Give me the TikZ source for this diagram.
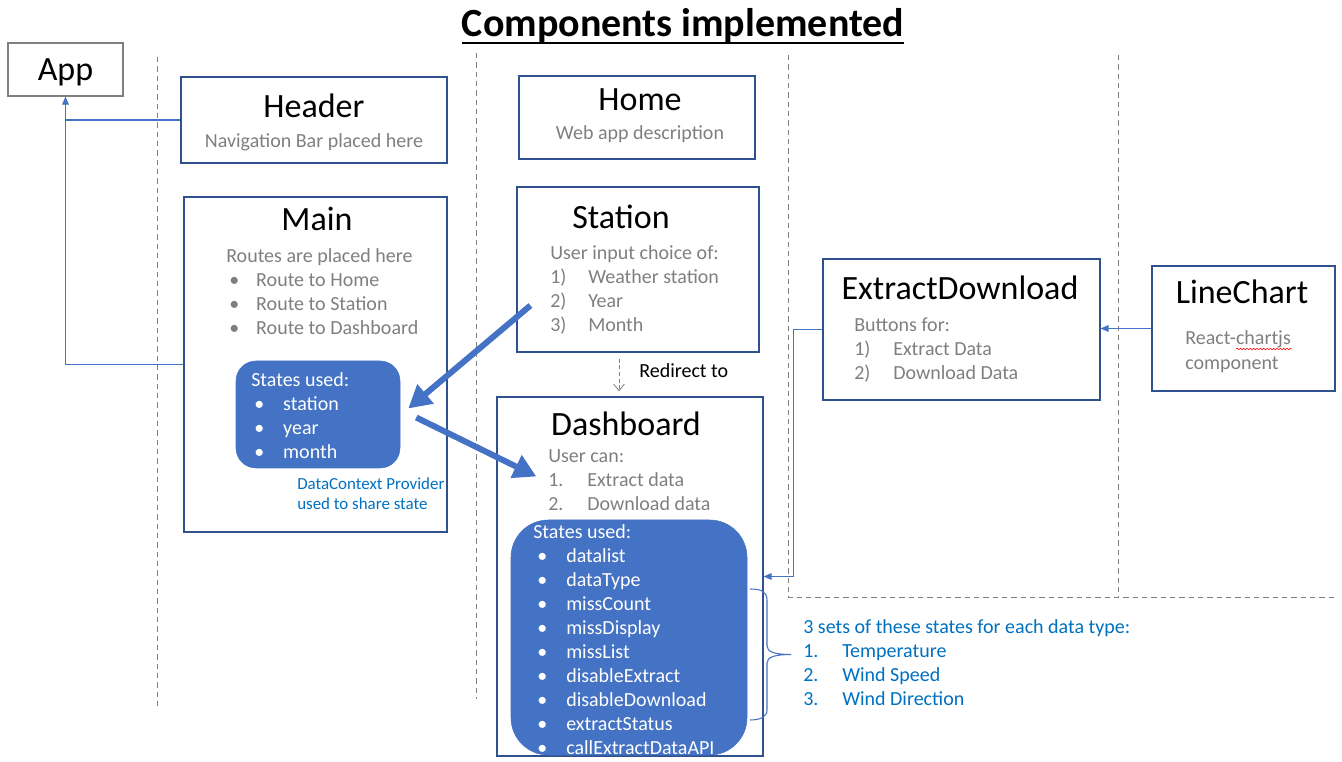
\documentclass[tikz,border=0pt]{standalone}
\usepackage{fontspec}
\setmainfont{Carlito}
\usetikzlibrary{arrows.meta,positioning,calc,decorations.pathmorphing}

\definecolor{boxline}{HTML}{2F528F}
\definecolor{accent}{HTML}{4472C4}
\definecolor{graytext}{HTML}{7F7F7F}
\definecolor{bluetext}{HTML}{0070C0}

% fixed-width lead for numbered and bulleted lines
\newcommand{\itm}[2]{\makebox[#1][l]{#2}}

\begin{document}
\begin{tikzpicture}[x=0.75pt, y=-0.75pt,
  boxsize/.style 2 args={minimum width=#1*0.75pt, minimum height=#2*0.75pt},
  box/.style={draw=boxline, line width=0.9pt, inner sep=0},
  states/.style={fill=accent, draw=accent, inner sep=0},
  ttl/.style={anchor=base, inner sep=0, font=\fontsize{25.5}{30}\selectfont},
  body/.style={anchor=base west, inner sep=0, align=left, font=\fontsize{15}{18}\selectfont},
  conn/.style={draw=accent, line width=0.8pt},
  tip/.style={-{Triangle[length=6pt,width=5pt]}},
  bigarrow/.style={draw=accent, line width=4.5pt, -{Triangle[length=17pt,width=18pt]}},
  sep/.style={draw=gray, line width=0.6pt, dash pattern=on 4pt off 3pt}]

\useasboundingbox (0,0) rectangle (1342,762);

% Title
\node (Title) [inner sep=0, anchor=base, font=\bfseries\fontsize{30}{36}\selectfont] at (683,37) {Components implemented};
\draw[line width=2pt] ($(Title.base west)+(0,6)$) -- ($(Title.base east)+(0,6)$);

% Column separators
\draw[sep] (157,57) -- (157,708);
\draw[sep] (476,53) -- (476,699);
\draw[sep] (788,55) -- (788,597) -- (1336,597);
\draw[sep] (1118,55) -- (1118,597);

% Component boxes
\node (App) [box, draw=gray, boxsize={115}{53}] at (65.5,69.5) {};
\node (Header) [box, boxsize={266}{86}] at (314,120) {};
\node (Main) [box, boxsize={263}{335}] at (315.5,364.5) {};
\node (Home) [box, boxsize={236}{83}] at (637,117.5) {};
\node (Station) [box, boxsize={242}{165}] at (638,269.5) {};
\node (Dashboard) [box, boxsize={266}{359}] at (630,576.5) {};
\node (ExtractDownload) [box, boxsize={277}{141}] at (961.5,329.5) {};
\node (LineChart) [box, boxsize={183}{125}] at (1243.5,328.5) {};

% State blocks
\node (MainStates) [states, rounded corners=15pt, boxsize={164}{107}] at (318,414.5) {};
\node (DashStates) [states, rounded corners=28pt, boxsize={236}{235}] at (629,637.5) {};

% Box titles
\node (AppT) [ttl] at (65.5,81) {App};
\node (HeaderT) [ttl] at (314,118) {Header};
\node (HomeT) [ttl] at (640,111) {Home};
\node (MainT) [ttl] at (317,231) {Main};
\node (StationT) [ttl] at (621,229) {Station};
\node (DashboardT) [ttl] at (626,436) {Dashboard};
\node (ExtractDownloadT) [ttl] at (960,300) {ExtractDownload};
\node (LineChartT) [ttl] at (1242,304) {LineChart};

% Descriptions (placed at the baseline of their last line)
\node (HeaderD) [body, anchor=base, text=graytext] at (314,148) {Navigation Bar placed here};
\node (HomeD) [body, anchor=base, text=graytext] at (640,140) {Web app description};
\node (MainD) [body, text=graytext] at (226,335) {Routes are placed here\\
  \hspace{2.25pt}\itm{20.25pt}{•}Route to Home\\
  \hspace{2.25pt}\itm{20.25pt}{•}Route to Station\\
  \hspace{2.25pt}\itm{20.25pt}{•}Route to Dashboard};
\node (StationD) [body, text=graytext] at (550,332) {User input choice of:\\
  \itm{28.5pt}{1)}Weather station\\
  \itm{28.5pt}{2)}Year\\
  \itm{28.5pt}{3)}Month};
\node (DashboardD) [body, text=graytext] at (548,511) {User can:\\
  \itm{29.25pt}{1.}Extract data\\
  \itm{29.25pt}{2.}Download data};
\node (ExtractDownloadD) [body, text=graytext] at (854,380) {Buttons for:\\
  \itm{29.25pt}{1)}Extract Data\\
  \itm{29.25pt}{2)}Download Data};
\node (LineChartD) [body, text=graytext, font=\fontsize{15}{18.75}\selectfont] at (1185,370) {React-chartjs\\component};
\draw[red, line width=0.4pt, decorate, decoration={snake, amplitude=0.6pt, segment length=2.5pt}] (1236,349) -- (1292,349);

% States used
\node (MainStatesD) [body, text=white] at (251,459) {States used:\\
  \hspace{2.25pt}\itm{21.75pt}{•}station\\
  \hspace{2.25pt}\itm{21.75pt}{•}year\\
  \hspace{2.25pt}\itm{21.75pt}{•}month};
\node (DashStatesD) [body, text=white] at (533,754) {States used:\\
  \hspace{3pt}\itm{21.75pt}{•}datalist\\
  \hspace{3pt}\itm{21.75pt}{•}dataType\\
  \hspace{3pt}\itm{21.75pt}{•}missCount\\
  \hspace{3pt}\itm{21.75pt}{•}missDisplay\\
  \hspace{3pt}\itm{21.75pt}{•}missList\\
  \hspace{3pt}\itm{21.75pt}{•}disableExtract\\
  \hspace{3pt}\itm{21.75pt}{•}disableDownload\\
  \hspace{3pt}\itm{21.75pt}{•}extractStatus\\
  \hspace{3pt}\itm{21.75pt}{•}callExtractDataAPI};

% Notes
\node (Provider) [body, text=bluetext, font=\fontsize{12.7}{15.5}\selectfont] at (297,510) {DataContext Provider\\used to share state};
\node (Sets) [body, text=bluetext] at (803,705) {3 sets of these states for each data type:\\
  \itm{29.25pt}{1.}Temperature\\
  \itm{29.25pt}{2.}Wind Speed\\
  \itm{29.25pt}{3.}Wind Direction};
\node (Redirect) [body] at (639,378) {Redirect to};

% Connectors
\draw[conn, tip] (Header.west) -| (App.south);
\draw[conn] (Main.west) -| (App.south);
\draw[conn, tip] (LineChart.west) -- (LineChart.west -| ExtractDownload.east);
\draw[conn, tip] (ExtractDownload.west) -- ++(-29,0) |- (Dashboard.east);
\draw[draw=gray, line width=0.6pt, dash pattern=on 3pt off 2pt, -{Straight Barb[length=5pt,width=8pt]}]
  ($(Station.south)+(-19,6)$) -- ($(Dashboard.north)+(-11,-5)$);

% Shared state flow
\draw[bigarrow] ($(Station.west)+(14,36)$) -- ($(MainStates.east)+(8,-6)$);
\draw[bigarrow] ($(MainStates.east)+(16,3)$) -- ($(Dashboard.west)+(40,-100)$);

% Brace over the per-type states
\draw[conn] (750,589) .. controls (760,589) and (767,591) .. (767,600) -- (767,646)
  .. controls (767,652) and (775,654.5) .. (791,654.5)
  .. controls (775,654.5) and (767,657) .. (767,663) -- (767,710)
  .. controls (767,717) and (760,720) .. (750,720);

\end{tikzpicture}
\end{document}
